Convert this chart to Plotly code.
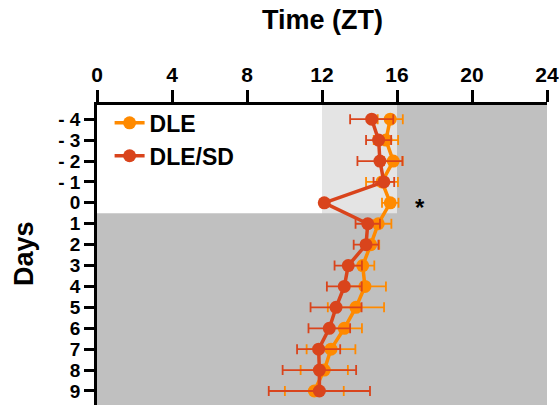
import plotly.graph_objects as go

# ---- data ----
days = [-4, -3, -2, -1, 0, 1, 2, 3, 4, 5, 6, 7, 8, 9]
day_labels = ["- 4", "- 3", "- 2", "- 1", "0", "1", "2", "3", "4", "5", "6", "7", "8", "9"]
dle = [15.64, 15.41, 15.80, 15.20, 15.64, 15.00, 14.60, 14.17, 14.29, 13.81, 13.19, 12.48, 12.12, 11.59]
dle_err = [0.67, 0.65, 0.50, 0.85, 0.44, 0.70, 0.45, 0.62, 1.12, 1.50, 0.94, 1.30, 1.26, 1.57]
sd = [14.65, 15.02, 15.09, 15.30, 12.12, 14.44, 14.35, 13.40, 13.19, 12.75, 12.39, 11.82, 11.86, 11.86]
sd_err = [1.15, 0.67, 1.20, 0.55, 0.0, 0.65, 0.66, 0.73, 0.93, 1.36, 1.11, 1.15, 1.96, 2.70]
x_ticks = [0, 4, 8, 12, 16, 20, 24]

# light schedule (ZT) and shift boundary
light_end_before = 12
dark_start_before = 16
shift_day = 0.5
star_x, star_day = 17.2, 0

C_DLE = "#FF8A00"
C_SD = "#D9441C"
FONT = "Liberation Sans, Arial, sans-serif"

fig = go.Figure()
fig.add_trace(go.Scatter(
    x=dle, y=days, name="DLE", mode="lines+markers",
    line=dict(color=C_DLE, width=3.5),
    marker=dict(color=C_DLE, size=13),
    error_x=dict(type="data", array=dle_err, color=C_DLE, thickness=1.8, width=5),
))
fig.add_trace(go.Scatter(
    x=sd, y=days, name="DLE/SD", mode="lines+markers",
    line=dict(color=C_SD, width=3.5),
    marker=dict(color=C_SD, size=13),
    error_x=dict(type="data", array=sd_err, color=C_SD, thickness=1.8, width=5),
))

y_top, y_bot = -4.68, 9.67
shapes = [
    dict(type="rect", xref="x", yref="y", x0=0, x1=light_end_before, y0=y_top, y1=shift_day,
         fillcolor="white", line=dict(width=0), layer="below"),
    dict(type="rect", xref="x", yref="y", x0=light_end_before, x1=dark_start_before, y0=y_top, y1=shift_day,
         fillcolor="#E4E4E4", line=dict(width=0), layer="below"),
]

fig.update_layout(
    width=559, height=405,
    margin=dict(l=97, r=12, t=105, b=0),
    paper_bgcolor="white", plot_bgcolor="#C0C0C0",
    font=dict(family=FONT, color="black", weight="bold"),
    shapes=shapes,
    showlegend=True,
    legend=dict(x=0.028, y=1.012, xanchor="left", yanchor="top",
                bgcolor="rgba(0,0,0,0)", font=dict(size=23, family=FONT, weight="bold"),
                tracegroupgap=0, itemwidth=30),
    annotations=[
        dict(text="Time (ZT)", xref="paper", yref="paper", x=0.5, y=1 + (105 - 20) / 300,
             xanchor="center", yanchor="middle", showarrow=False,
             font=dict(size=27, family=FONT, weight="bold")),
        dict(text="Days", xref="paper", yref="paper", x=(24 - 97) / 450, y=0.503,
             xanchor="center", yanchor="middle", showarrow=False, textangle=-90,
             font=dict(size=27, family=FONT, weight="bold")),
        dict(text="*", x=star_x, y=star_day, xref="x", yref="y", showarrow=False,
             xanchor="center", yanchor="middle", yshift=-5,
             font=dict(size=24, family=FONT, weight="bold")),
    ],
)

fig.update_xaxes(
    range=[0, 24], side="top", tickmode="array", tickvals=x_ticks,
    showgrid=False, zeroline=False,
    showline=True, linecolor="black", linewidth=2.5,
    ticks="outside", ticklen=12, tickwidth=2.5, tickcolor="black",
    tickfont=dict(size=21, family=FONT, weight="bold"),
)
fig.update_yaxes(
    range=[y_bot, y_top], tickmode="array", tickvals=days, ticktext=day_labels,
    showgrid=False, zeroline=False,
    showline=True, linecolor="black", linewidth=2.5,
    ticks="outside", ticklen=10, tickwidth=2.5, tickcolor="black",
    tickfont=dict(size=19, family=FONT, weight="bold"),
)

fig.write_html("out.html")
